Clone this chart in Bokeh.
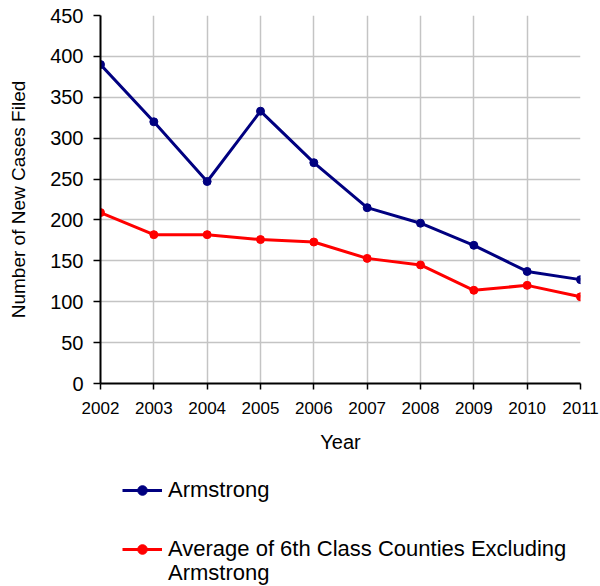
from bokeh.plotting import figure
from bokeh.models import FixedTicker, Legend, LegendItem, Range1d, ColumnDataSource
from bokeh.layouts import column
from bokeh.embed import file_html
from bokeh.resources import INLINE

years = [2002, 2003, 2004, 2005, 2006, 2007, 2008, 2009, 2010, 2011]
armstrong = [390, 320, 247, 333, 270, 215, 196, 169, 137, 127]
average_6th = [209, 182, 182, 176, 173, 153, 145, 114, 120, 106]
y_ticks = [0, 50, 100, 150, 200, 250, 300, 350, 400, 450]
label_a = "Armstrong"
label_b_line1 = "Average of 6th Class Counties Excluding"
label_b_line2 = "Armstrong"

FONT = "Liberation Sans"
NAVY = "#000080"
RED = "#FF0000"

# ---------------- main chart ----------------
p = figure(width=600, height=460, output_backend="svg", toolbar_location=None,
           x_range=Range1d(2002, 2011), y_range=Range1d(0, 450),
           min_border_left=100, min_border_right=20, min_border_top=15, min_border_bottom=77)
p.outline_line_color = None

src = ColumnDataSource(dict(x=years, a=armstrong, b=average_6th))
la = p.line("x", "a", source=src, line_color=NAVY, line_width=3, line_join="round")
ma = p.scatter("x", "a", source=src, size=8, fill_color=NAVY, line_color=NAVY)
lb = p.line("x", "b", source=src, line_color=RED, line_width=3, line_join="round")
mb = p.scatter("x", "b", source=src, size=8, fill_color=RED, line_color=RED)

p.xaxis.ticker = FixedTicker(ticks=years)
p.yaxis.ticker = FixedTicker(ticks=y_ticks)
for ax in (p.xaxis[0], p.yaxis[0]):
    ax.axis_line_color = "black"
    ax.axis_line_width = 2
    ax.major_tick_line_color = "black"
    ax.major_tick_line_width = 1.5
    ax.major_tick_in = 0
    ax.minor_tick_line_color = None
    ax.major_label_text_font = FONT
    ax.axis_label_text_font = FONT
    ax.axis_label_text_font_style = "normal"
    ax.major_label_text_color = "black"
    ax.axis_label_text_color = "black"

p.xaxis.major_tick_out = 6
p.xaxis.major_label_text_font_size = "17px"
p.xaxis.major_label_standoff = 12
p.xaxis.axis_label = "Year"
p.xaxis.axis_label_text_font_size = "20px"
p.xaxis.axis_label_standoff = 14

p.yaxis.major_tick_out = 7
p.yaxis.major_label_text_font_size = "20px"
p.yaxis.major_label_standoff = 10
p.yaxis.axis_label = "Number of New Cases Filed"
p.yaxis.axis_label_text_font_size = "19px"
p.yaxis.axis_label_standoff = 18

p.xgrid.ticker = FixedTicker(ticks=years)
p.ygrid.ticker = FixedTicker(ticks=y_ticks)
for g in (p.xgrid[0], p.ygrid[0]):
    g.grid_line_color = "#c4c4c4"
    g.grid_line_width = 1.5

# ---------------- legend strip ----------------
p2 = figure(width=600, height=126, output_backend="svg", toolbar_location=None,
            x_range=Range1d(0, 1), y_range=Range1d(0, 1),
            x_axis_type=None, y_axis_type=None,
            min_border_left=0, min_border_right=0, min_border_top=0, min_border_bottom=0)
p2.outline_line_color = None
la2 = p2.line("x", "a", source=src, line_color=NAVY, line_width=3)
ma2 = p2.scatter("x", "a", source=src, size=8, fill_color=NAVY, line_color=NAVY)
lb2 = p2.line("x", "b", source=src, line_color=RED, line_width=3)
mb2 = p2.scatter("x", "b", source=src, size=8, fill_color=RED, line_color=RED)

common = dict(orientation="vertical", label_text_font=FONT, label_text_font_size="22px",
              label_text_color="black",
              glyph_width=40, glyph_height=24, label_height=24, label_standoff=6,
              spacing=0, padding=0, margin=0,
              border_line_color=None, background_fill_alpha=0)

legend_a = Legend(items=[LegendItem(label=label_a, renderers=[la2, ma2])],
                  location=(22, 83), **common)
legend_b = Legend(items=[LegendItem(label=label_b_line1, renderers=[lb2, mb2])],
                  location=(22, 24), **common)
legend_c = Legend(items=[LegendItem(label=label_b_line2, renderers=[])],
                  location=(22, 0), **common)
for lg in (legend_a, legend_b, legend_c):
    p2.add_layout(lg, "center")

layout = column(p, p2, spacing=0)
open("out.html", "w").write(file_html(layout, INLINE))
